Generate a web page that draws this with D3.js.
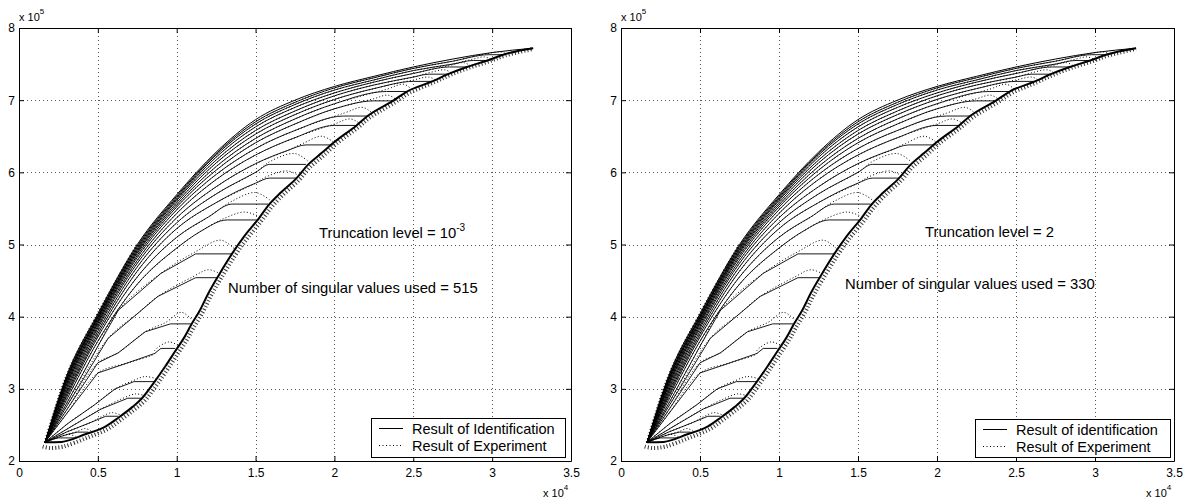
<!DOCTYPE html>
<html>
<head>
<meta charset="utf-8">
<script src="https://cdn.jsdelivr.net/npm/d3@7"></script>
<style>
body { margin: 0; background: #fff; }
text { font-family: "Liberation Sans", Arial, Helvetica, sans-serif; fill: #000; }
</style>
</head>
<body>
<svg id="chart" width="1187" height="502"></svg>
<script>
// axis ticks (x in 1e4, y in 1e5)
const xTicks = [0, 0.5, 1, 1.5, 2, 2.5, 3, 3.5];
const yTicks = [2, 3, 4, 5, 6, 7, 8];

// lower (loading) branch, identification
const lowerBranch = [[0.165,2.26],[0.27,2.265],[0.42,2.37],[0.55,2.48],[0.63,2.6],[0.72,2.75],[0.78,2.87],
  [0.86,3.1],[0.93,3.32],[0.99,3.52],[1.05,3.72],[1.09,3.88],[1.15,4.1],[1.2,4.32],[1.26,4.55],[1.35,4.87],
  [1.43,5.12],[1.52,5.36],[1.58,5.54],[1.66,5.72],[1.76,5.92],[1.83,6.1],[1.92,6.27],[2.0,6.42],[2.14,6.65],
  [2.21,6.78],[2.37,6.99],[2.46,7.12],[2.62,7.26],[2.72,7.36],[2.84,7.46],[2.97,7.55],[3.07,7.63],[3.26,7.72]];

// lower branch, experiment
const expLowerBranch = [[0.15,2.2],[0.2,2.18],[0.28,2.2],[0.43,2.32],[0.56,2.44],[0.64,2.56],[0.73,2.71],[0.8,2.84],
  [0.875,3.06],[0.945,3.28],[1.005,3.48],[1.065,3.68],[1.105,3.84],[1.165,4.06],[1.215,4.28],[1.275,4.51],[1.365,4.83],
  [1.445,5.08],[1.535,5.32],[1.595,5.5],[1.675,5.69],[1.775,5.89],[1.845,6.07],[1.935,6.24],[2.015,6.4],[2.155,6.63],
  [2.225,6.76],[2.385,6.97],[2.475,7.1],[2.635,7.25],[2.735,7.35],[2.855,7.45],[2.985,7.54],[3.085,7.62],[3.26,7.71]];

// outer (unloading) curve
const outerCurve = [[0.165,2.26],[0.3,3.17],[0.5,4.04],[0.75,5.0],[1.0,5.69],[1.25,6.28],[1.5,6.73],[1.75,7.0],
  [2.0,7.19],[2.25,7.33],[2.5,7.46],[2.75,7.57],[3.0,7.66],[3.26,7.72]];

// inner curves, identification: body then flat part onto the lower branch
const innerCurves = [
  [[0.165,2.26],[0.21,2.3],[0.25,2.32],[0.36,2.32]],
  [[0.165,2.26],[0.25,2.33],[0.31,2.37],[0.37,2.4],[0.44,2.4]],
  [[0.165,2.26],[0.3,2.4],[0.45,2.53],[0.55,2.62],[0.63,2.62]],
  [[0.165,2.26],[0.31,2.45],[0.52,2.72],[0.69,2.87],[0.78,2.87]],
  [[0.165,2.26],[0.31,2.52],[0.48,2.78],[0.61,3.0],[0.73,3.1],[0.86,3.1]],
  [[0.165,2.26],[0.3,2.65],[0.5,3.22],[0.69,3.36],[0.86,3.49],[0.9,3.56],[0.99,3.56]],
  [[0.165,2.26],[0.3,2.7],[0.5,3.36],[0.63,3.5],[0.8,3.79],[0.96,3.9],[1.09,3.9]],
  [[0.165,2.26],[0.3,2.75],[0.565,3.7],[0.75,4.04],[0.88,4.28],[1.12,4.54],[1.26,4.54]],
  [[0.165,2.26],[0.3,2.79],[0.5,3.59],[0.63,4.09],[0.9,4.6],[1.12,4.87],[1.35,4.87]],
  [[0.165,2.26],[0.3,2.84],[0.5,3.66],[0.75,4.45],[1.0,4.95],[1.15,5.18],[1.32,5.34],[1.51,5.34]],
  [[0.165,2.26],[0.3,2.88],[0.5,3.72],[0.75,4.55],[1.0,5.1],[1.2,5.38],[1.35,5.56],[1.58,5.56]],
  [[0.165,2.26],[0.3,2.91],[0.5,3.76],[0.75,4.63],[1.0,5.22],[1.25,5.58],[1.5,5.85],[1.59,5.92],[1.76,5.92]],
  [[0.165,2.26],[0.3,2.94],[0.5,3.8],[0.75,4.69],[1.0,5.3],[1.25,5.7],[1.5,6.0],[1.59,6.11],[1.82,6.11]],
  [[0.165,2.26],[0.3,2.97],[0.5,3.84],[0.75,4.74],[1.0,5.37],[1.25,5.8],[1.5,6.12],[1.7,6.3],[1.82,6.38],[1.99,6.38]],
  [[0.165,2.26],[0.3,3.0],[0.5,3.87],[0.75,4.78],[1.0,5.43],[1.25,5.9],[1.5,6.24],[1.75,6.48],[2.0,6.65],[2.14,6.65]],
  [[0.165,2.26],[0.3,3.03],[0.5,3.9],[0.75,4.82],[1.0,5.48],[1.25,5.97],[1.5,6.33],[1.75,6.58],[2.06,6.78],[2.21,6.78]],
  [[0.165,2.26],[0.3,3.05],[0.5,3.92],[0.75,4.85],[1.0,5.52],[1.25,6.03],[1.5,6.41],[1.75,6.67],[2.0,6.88],[2.25,6.99],[2.37,6.99]],
  [[0.165,2.26],[0.3,3.07],[0.5,3.94],[0.75,4.88],[1.0,5.55],[1.25,6.08],[1.5,6.47],[1.75,6.74],[2.0,6.95],[2.33,7.12],[2.46,7.12]],
  [[0.165,2.26],[0.3,3.09],[0.5,3.96],[0.75,4.9],[1.0,5.58],[1.25,6.13],[1.5,6.53],[1.75,6.8],[2.0,7.01],[2.25,7.16],[2.5,7.26],[2.62,7.26]],
  [[0.165,2.26],[0.3,3.11],[0.5,3.98],[0.75,4.92],[1.0,5.61],[1.25,6.17],[1.5,6.58],[1.75,6.85],[2.0,7.06],[2.25,7.21],[2.5,7.32],[2.6,7.36],[2.72,7.36]],
  [[0.165,2.26],[0.3,3.12],[0.5,3.99],[0.75,4.94],[1.0,5.63],[1.25,6.21],[1.5,6.63],[1.75,6.9],[2.0,7.1],[2.25,7.25],[2.5,7.37],[2.73,7.46],[2.84,7.46]],
  [[0.165,2.26],[0.3,3.13],[0.5,4.0],[0.75,4.96],[1.0,5.65],[1.25,6.24],[1.5,6.67],[1.75,6.94],[2.0,7.14],[2.25,7.28],[2.5,7.41],[2.75,7.5],[2.88,7.55],[2.97,7.55]],
  [[0.165,2.26],[0.3,3.15],[0.5,4.02],[0.75,4.98],[1.0,5.67],[1.25,6.26],[1.5,6.7],[1.75,6.97],[2.0,7.17],[2.25,7.31],[2.5,7.44],[2.75,7.54],[2.98,7.63],[3.07,7.63]]
];

// experiment: the bump that replaces each flat part (start, peak, end)
const expHumps = [
  [[0.25,2.33],[0.31,2.37],[0.37,2.33]],
  [[0.37,2.41],[0.42,2.45],[0.46,2.41]],
  [[0.52,2.61],[0.59,2.67],[0.65,2.63]],
  [[0.66,2.87],[0.74,2.93],[0.8,2.9]],
  [[0.72,3.11],[0.8,3.17],[0.87,3.14]],
  [[0.86,3.53],[0.95,3.65],[1.01,3.6]],
  [[0.93,3.92],[1.03,4.06],[1.1,3.95]],
  [[1.1,4.55],[1.2,4.65],[1.27,4.6]],
  [[1.12,4.9],[1.28,5.06],[1.37,4.93]],
  [[1.3,5.36],[1.43,5.45],[1.52,5.39]],
  [[1.35,5.6],[1.5,5.72],[1.6,5.6]],
  [[1.57,5.94],[1.7,6.02],[1.77,5.96]],
  [[1.6,6.16],[1.75,6.26],[1.84,6.14]],
  [[1.8,6.4],[1.92,6.5],[2.0,6.41]],
  [[2.0,6.67],[2.1,6.74],[2.16,6.68]],
  [[2.06,6.82],[2.18,6.9],[2.24,6.82]],
  [[2.25,7.02],[2.34,7.07],[2.39,7.01]],
  [[2.33,7.15],[2.44,7.22],[2.49,7.15]],
  [[2.5,7.28],[2.6,7.32],[2.64,7.28]],
  [[2.6,7.38],[2.7,7.42],[2.74,7.38]],
  [[2.73,7.48],[2.82,7.52],[2.86,7.48]],
  [[2.88,7.57],[2.95,7.6],[2.99,7.57]],
  [[2.98,7.65],[3.05,7.67],[3.09,7.64]]
];

const legendLabels = [
  ["Result of Identification", "Result of Experiment"],
  ["Result of identification", "Result of Experiment"]
];
const truncLabels = [["Truncation level = 10", "-3"], ["Truncation level = 2", ""]];
const svLabels = ["Number of singular values used = 515", "Number of singular values used = 330"];

const svg = d3.select("#chart");

const panels = [
  { left: 19, right: 571, top: 28, bottom: 461, trunc: [319, 238], sv: [228, 293], leg: [371, 418, 194, 39] },
  { left: 621, right: 1174, top: 28, bottom: 461, trunc: [925, 237], sv: [845, 289], leg: [975, 419, 195, 38] }
];

panels.forEach((p, i) => drawPanel(p, i));

function drawPanel(p, i) {
  const x = d3.scaleLinear().domain([0, 3.5]).range([p.left, p.right]);
  const y = d3.scaleLinear().domain([2, 8]).range([p.bottom, p.top]);
  const g = svg.append("g");

  // dotted grid
  g.selectAll(".gx").data(xTicks.slice(1, -1)).enter().append("line")
    .attr("x1", d => Math.round(x(d)) + 0.5).attr("x2", d => Math.round(x(d)) + 0.5)
    .attr("y1", p.top).attr("y2", p.bottom)
    .attr("stroke", "#555").attr("stroke-width", 1).attr("stroke-dasharray", "1,3");
  g.selectAll(".gy").data(yTicks.slice(1, -1)).enter().append("line")
    .attr("y1", d => Math.round(y(d)) + 0.5).attr("y2", d => Math.round(y(d)) + 0.5)
    .attr("x1", p.left).attr("x2", p.right)
    .attr("stroke", "#555").attr("stroke-width", 1).attr("stroke-dasharray", "1,3");

  const line = d3.line().x(d => x(d[0])).y(d => y(d[1]));
  const mono = d3.line().x(d => x(d[0])).y(d => y(d[1])).curve(d3.curveMonotoneX);
  const smooth = d3.line().x(d => x(d[0])).y(d => y(d[1])).curve(d3.curveCatmullRom);

  const plot = g.append("g");

  // experiment (dotted)
  plot.append("path").attr("d", smooth(expLowerBranch))
    .attr("fill", "none").attr("stroke", "#333").attr("stroke-width", 4)
    .attr("stroke-dasharray", "1,2.2");
  innerCurves.forEach((c, k) => {
    const pts = c.slice(0, -2).concat(expHumps[k]);
    plot.append("path").attr("d", smooth(pts))
      .attr("fill", "none").attr("stroke", "#000").attr("stroke-width", 1)
      .attr("stroke-dasharray", "1,2.2");
  });
  plot.append("path").attr("d", smooth(outerCurve.slice(0, 4)))
    .attr("fill", "none").attr("stroke", "#333").attr("stroke-width", 2.5)
    .attr("stroke-dasharray", "1,2.2");

  // identification (solid)
  innerCurves.forEach((c, k) => {
    plot.append("path").attr("d", k >= 9 ? mono(c) : line(c))
      .attr("fill", "none").attr("stroke", "#000").attr("stroke-width", 0.9);
  });
  plot.append("path").attr("d", mono(outerCurve))
    .attr("fill", "none").attr("stroke", "#000").attr("stroke-width", 1);
  plot.append("path").attr("d", mono(lowerBranch))
    .attr("fill", "none").attr("stroke", "#000").attr("stroke-width", 2);

  // axes: ticks point inward on all four sides
  const fmt = d => String(d);
  const bottom = g.append("g").attr("transform", `translate(0,${p.bottom})`)
    .call(d3.axisBottom(x).tickValues(xTicks).tickSize(-5).tickSizeOuter(0).tickPadding(7).tickFormat(fmt));
  const left = g.append("g").attr("transform", `translate(${p.left},0)`)
    .call(d3.axisLeft(y).tickValues(yTicks).tickSize(-5).tickSizeOuter(0).tickPadding(4).tickFormat(fmt));
  g.append("g").attr("transform", `translate(0,${p.top})`)
    .call(d3.axisTop(x).tickValues(xTicks).tickSize(-5).tickSizeOuter(0).tickFormat(""));
  g.append("g").attr("transform", `translate(${p.right},0)`)
    .call(d3.axisRight(y).tickValues(yTicks).tickSize(-5).tickSizeOuter(0).tickFormat(""));
  g.selectAll(".domain").attr("stroke", "#000").attr("stroke-width", 1);
  g.selectAll(".tick line").attr("stroke", "#000");
  bottom.selectAll("text").style("font-size", "12px").style("font-family", "Liberation Sans, Arial, sans-serif");
  left.selectAll("text").style("font-size", "12px").style("font-family", "Liberation Sans, Arial, sans-serif");

  // axis multipliers
  const mx = g.append("text").attr("x", p.right - 28).attr("y", 497).style("font-size", "11px");
  mx.append("tspan").text("x 10");
  mx.append("tspan").attr("dy", -7).style("font-size", "8px").text("4");
  const my = g.append("text").attr("x", p.left).attr("y", 21).style("font-size", "11px");
  my.append("tspan").text("x 10");
  my.append("tspan").attr("dy", -7).style("font-size", "8px").text("5");

  // annotations
  const t1 = g.append("text").attr("x", p.trunc[0]).attr("y", p.trunc[1]).style("font-size", "14.8px");
  t1.append("tspan").text(truncLabels[i][0]);
  if (truncLabels[i][1]) t1.append("tspan").attr("dy", -7).style("font-size", "10px").text(truncLabels[i][1]);
  g.append("text").attr("x", p.sv[0]).attr("y", p.sv[1]).style("font-size", "14.8px").text(svLabels[i]);

  // legend
  const [lx, ly, lw, lh] = p.leg;
  const lg = g.append("g");
  lg.append("rect").attr("x", lx + 0.5).attr("y", ly + 0.5).attr("width", lw).attr("height", lh)
    .attr("fill", "#fff").attr("stroke", "#000").attr("stroke-width", 1);
  lg.append("line").attr("x1", lx + 8).attr("x2", lx + 32).attr("y1", ly + 10.5).attr("y2", ly + 10.5)
    .attr("stroke", "#000").attr("stroke-width", 1);
  lg.append("line").attr("x1", lx + 8).attr("x2", lx + 32).attr("y1", ly + 27.5).attr("y2", ly + 27.5)
    .attr("stroke", "#000").attr("stroke-width", 1).attr("stroke-dasharray", "1,2.5");
  lg.append("text").attr("x", lx + 41).attr("y", ly + 16).style("font-size", "14.5px").text(legendLabels[i][0]);
  lg.append("text").attr("x", lx + 41).attr("y", ly + 33).style("font-size", "14.5px").text(legendLabels[i][1]);
}
</script>
</body>
</html>
